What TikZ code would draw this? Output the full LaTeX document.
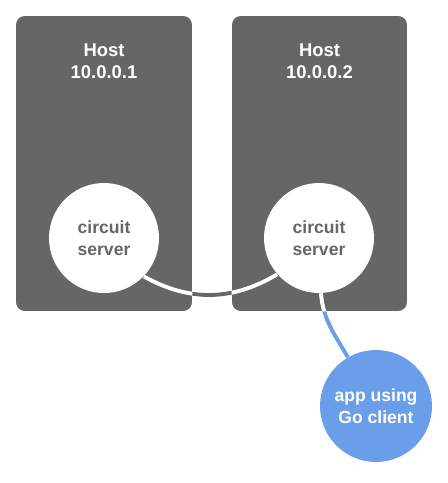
\documentclass[tikz,border=0pt]{standalone}
\usepackage{fontspec}
\setmainfont{Liberation Sans}
\definecolor{hostgray}{HTML}{666666}
\definecolor{appblue}{HTML}{6A9EE8}
\tikzset{
    host/.style={fill=hostgray, rounded corners=5pt, minimum height=5.9cm, inner sep=0pt},
    hostlabel/.style={text=white, font=\bfseries\fontsize{10.5}{12.5}\selectfont, align=center},
    server/.style={circle, fill=white, minimum size=2.2cm, inner sep=0pt, text=hostgray,
        font=\bfseries\fontsize{10}{12.5}\selectfont, align=center},
    app/.style={circle, fill=appblue, minimum size=2.24cm, inner sep=0pt, text=white,
        font=\bfseries\fontsize{10}{12.5}\selectfont, align=center},
    link/.style={line width=2.2pt},
}

\begin{document}
\begin{tikzpicture}[x=0.02cm,y=0.02cm]
        \useasboundingbox (0,0) rectangle (448,-483);
        \node[host, minimum width=3.52cm] (h1) at (104,-163.5) {};
        \node[host, minimum width=3.5cm] (h2) at (319.5,-163.5) {};
        \node[hostlabel] (l1) at (104,-61) {Host\\10.0.0.1};
        \node[hostlabel] (l2) at (319.5,-61) {Host\\10.0.0.2};
        \node[server] (s1) at (104,-238) {circuit\\server};
        \node[server] (s2) at (319,-238) {circuit\\server};
        \node[app] (a) at (376,-406) {app using\\Go client};
        % line shows gray over the gap, white over the hosts
        \draw[link, hostgray] (s1.-44) to[bend right=30] (s2.-139);
        \draw[link, appblue] (s2.-88) to[out=-85,in=120] (a.120);
        \begin{scope}
            \clip (h1.south west) rectangle (h1.north east)
                  (h2.south west) rectangle (h2.north east);
            \draw[link, white] (s1.-44) to[bend right=30] (s2.-139);
            \draw[link, white] (s2.-88) to[out=-85,in=120] (a.120);
        \end{scope}
\end{tikzpicture}
\end{document}
